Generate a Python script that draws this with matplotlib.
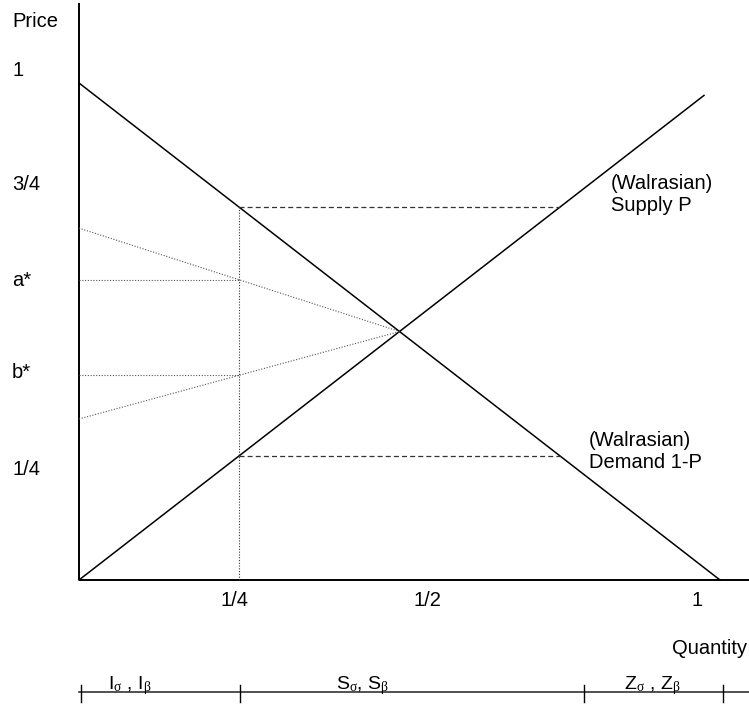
import matplotlib
matplotlib.use("Agg")
import matplotlib.pyplot as plt

plt.rcParams['font.family'] = ['Liberation Sans', 'DejaVu Sans']
# greek subscripts in an upright serif face, like the original
plt.rcParams['mathtext.fontset'] = 'custom'
plt.rcParams['mathtext.rm'] = 'Liberation Serif'
plt.rcParams['mathtext.it'] = 'Liberation Serif'

# demand 1-P and (Walrasian) supply P
demand_q = [0.0, 1.0]
demand_p = [1.0, 0.0]
supply_q = [0.0, 0.975]
supply_p = [0.0, 0.975]

# dotted rays meeting at the Walrasian point
ray_hi_q = [0.0, 0.5]
ray_hi_p = [0.708, 0.5]
ray_lo_q = [0.0, 0.5]
ray_lo_p = [0.324, 0.5]

a_star = 0.603
b_star = 0.413
q_quarter = 0.25

# dashed levels
dash_q = [0.25, 0.75]
dash_levels = [0.75, 0.25]

# bottom scale: region boundaries and labels
region_edges = [0.003, 0.251, 0.788, 1.005]
region_labels = [r'I$_{\sigma}$ , I$_{\beta}$', r'S$_{\sigma}$, S$_{\beta}$',
                 r'Z$_{\sigma}$ , Z$_{\beta}$']
region_label_q = [0.080, 0.442, 0.894]

y_labels = ['Price', '1', '3/4', 'a*', 'b*', '1/4']
y_label_p = [1.123, 1.026, 0.795, 0.602, 0.4165, 0.223]
x_labels = ['1/4', '1/2', '1']
x_label_q = [0.243, 0.543, 0.964]

fig = plt.figure(figsize=(7.49, 7.07), dpi=100)
ax = fig.add_axes([0, 0, 1, 1])
ax.set_xlim(-79 / 641, 670 / 641)
ax.set_ylim(-127 / 497, 580 / 497)
ax.axis('off')

# axes
ax.plot([0, 0], [0, 1.161], color='black', lw=1.4, solid_capstyle='butt')
ax.plot([0, 1.045], [0, 0], color='black', lw=1.4, solid_capstyle='butt')

# curves
ax.plot(demand_q, demand_p, color='black', lw=1.1)
ax.plot(supply_q, supply_p, color='black', lw=1.1)

dot = (0, (1, 1.5))
ax.plot(ray_hi_q, ray_hi_p, color='#555555', lw=0.8, ls=dot)
ax.plot(ray_lo_q, ray_lo_p, color='#555555', lw=0.8, ls=dot)
ax.plot([0, q_quarter], [a_star, a_star], color='#555555', lw=0.8, ls=dot)
ax.plot([0, q_quarter], [b_star, b_star], color='#555555', lw=0.8, ls=dot)
ax.plot([q_quarter, q_quarter], [0, 0.75], color='#333333', lw=0.8, ls=dot)

for lev in dash_levels:
    ax.plot(dash_q, [lev, lev], color='#333333', lw=0.9, ls=(0, (4, 2.5)))

fs = 14.5
for lab, p in zip(y_labels, y_label_p):
    ax.text(-0.1045, p, lab, ha='left', va='center', fontsize=fs)
for lab, q in zip(x_labels, x_label_q):
    ax.text(q, -0.042, lab, ha='center', va='center', fontsize=fs)
ax.text(1.042, -0.137, 'Quantity', ha='right', va='center', fontsize=fs)

ax.text(0.830, 0.775, '(Walrasian)\nSupply P', ha='left', va='center', fontsize=fs)
ax.text(0.796, 0.2586, '(Walrasian)\nDemand 1-P', ha='left', va='center', fontsize=fs)

# bottom scale
y_scale = -0.2254
ax.plot([0.0, 1.045], [y_scale, y_scale], color='#333333', lw=1.2)
for q in region_edges:
    ax.plot([q, q], [y_scale - 0.02, y_scale + 0.014], color='black', lw=1.0)
for lab, q in zip(region_labels, region_label_q):
    ax.text(q, -0.219, lab, ha='center', va='baseline', fontsize=14)

fig.savefig('out.png', dpi=100)
